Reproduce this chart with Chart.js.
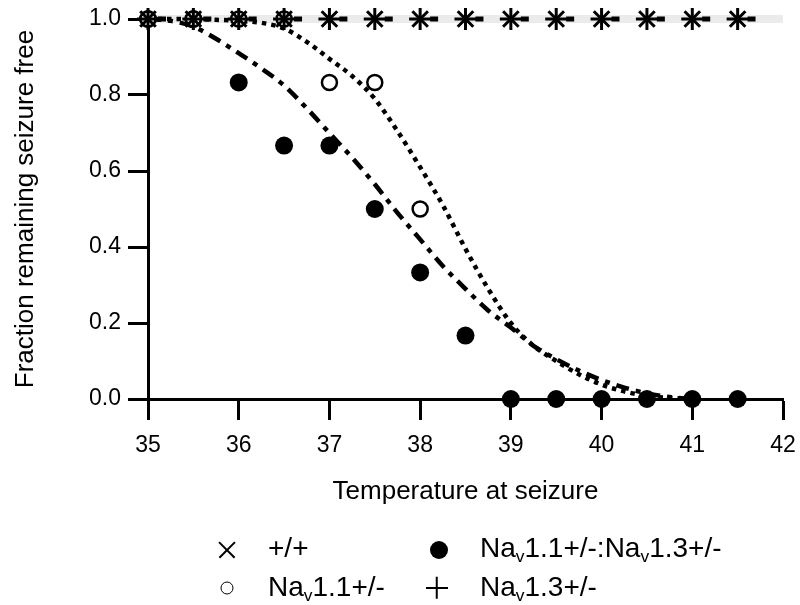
<!DOCTYPE html>
<html>
<head>
<meta charset="utf-8">
<script src="https://cdn.jsdelivr.net/npm/chart.js@4.4.1/dist/chart.umd.min.js"></script>
<style>
    html, body { margin: 0; padding: 0; background: #fff; }
    #wrap { position: relative; width: 800px; height: 605px; }
    #chart { position: absolute; left: 0; top: 0; }
    .lg { position: absolute; font-family: "Liberation Sans", Arial, sans-serif; font-size: 28px; color: #000;
          line-height: 1; white-space: nowrap; transform: translateY(-50%); }
    .lg sub { font-size: 62%; vertical-align: -0.3em; line-height: 0; }
    .mk { position: absolute; transform: translate(-50%, -50%); }
    .dot { width: 18px; height: 18px; border-radius: 50%; background: #000; }
    .ring { width: 11px; height: 11px; border-radius: 50%; border: 1.5px solid #000; }
    .cross, .xmark { width: 22px; height: 22px; }
    .cross::before, .cross::after, .xmark::before, .xmark::after {
        content: ""; position: absolute; left: 0; top: 10.25px; width: 22px; height: 1.5px; background: #000;
    }
    .cross::after { transform: rotate(90deg); }
    .xmark::before { transform: rotate(45deg); }
    .xmark::after { transform: rotate(-45deg); }
</style>
</head>
<body>
<div id="wrap">
    <canvas id="chart" width="800" height="605"></canvas>
    <span class="mk xmark" style="left:227px; top:550px;"></span>
    <span class="lg" style="left:268px; top:548px;">+/+</span>
    <span class="mk dot" style="left:439px; top:550px;"></span>
    <span class="lg" style="left:480px; top:548px;">Na<sub>v</sub>1.1+/-:Na<sub>v</sub>1.3+/-</span>
    <span class="mk ring" style="left:227px; top:588px;"></span>
    <span class="lg" style="left:268px; top:587px;">Na<sub>v</sub>1.1+/-</span>
    <span class="mk cross" style="left:437px; top:588px;"></span>
    <span class="lg" style="left:480px; top:587px;">Na<sub>v</sub>1.3+/-</span>
</div>
<script>
    const FONT = '"Liberation Sans", Arial, sans-serif';

    // observed points
    const temps = [35, 35.5, 36, 36.5, 37, 37.5, 38, 38.5, 39, 39.5, 40, 40.5, 41, 41.5];
    const wildType = [1, 1, 1, 1, 1, 1, 1, 1, 1, 1, 1, 1, 1, 1];
    const nav13Het = [1, 1, 1, 1, 1, 1, 1, 1, 1, 1, 1, 1, 1, 1];
    const nav11Temps = [35, 35.5, 36, 36.5, 37, 37.5, 38];
    const nav11Het = [1, 1, 1, 1, 0.833, 0.833, 0.5];
    const doubleHet = [1, 1, 0.833, 0.667, 0.667, 0.5, 0.333, 0.167, 0, 0, 0, 0, 0, 0];

    // fitted curves
    const fitTemps = [35, 35.25, 35.5, 35.75, 36, 36.25, 36.5, 36.75, 37, 37.25, 37.5, 37.75, 38,
        38.25, 38.5, 38.75, 39, 39.25, 39.5, 39.75, 40, 40.25, 40.5, 40.75, 41];
    const nav11Fit = [1, 1, 1, 0.998, 0.995, 0.99, 0.975, 0.94, 0.895, 0.85, 0.79, 0.705, 0.61,
        0.51, 0.395, 0.29, 0.2, 0.14, 0.1, 0.065, 0.038, 0.02, 0.008, 0.003, 0];
    const doubleFit = [1, 0.995, 0.98, 0.948, 0.91, 0.87, 0.825, 0.765, 0.7, 0.635, 0.565, 0.49, 0.42,
        0.35, 0.29, 0.233, 0.188, 0.14, 0.105, 0.075, 0.05, 0.03, 0.015, 0.005, 0];
    const flatTemps = [35, 42];
    const flatFit = [1, 1];

    const toXY = (xs, ys) => xs.map((x, i) => ({x: x, y: ys[i]}));

    const ctx = document.getElementById('chart').getContext('2d');
    new Chart(ctx, {
        type: 'scatter',
        data: {
            datasets: [
                {
                    label: 'flat band', type: 'line', data: toXY(flatTemps, flatFit),
                    borderColor: '#ebebeb', borderWidth: 8, pointRadius: 0, order: 10, clip: false
                },
                {
                    label: 'flat fit', type: 'line', data: toXY(flatTemps, flatFit),
                    borderColor: '#000', borderWidth: 5, borderDash: [8, 37.35], borderDashOffset: 35.35,
                    pointRadius: 0, order: 9, clip: false
                },
                {
                    label: 'Nav1.1 fit', type: 'line', data: toXY(fitTemps, nav11Fit),
                    borderColor: '#000', borderWidth: 4.5, borderDash: [4.5, 5], borderCapStyle: 'butt',
                    cubicInterpolationMode: 'monotone', pointRadius: 0, order: 8, clip: false
                },
                {
                    label: 'double fit', type: 'line', data: toXY(fitTemps, doubleFit),
                    borderColor: '#000', borderWidth: 4.5, borderDash: [13, 7, 5, 7], borderCapStyle: 'butt',
                    cubicInterpolationMode: 'monotone', pointRadius: 0, order: 7, clip: false
                },
                {
                    label: 'Nav1.1+/-:Nav1.3+/-', data: toXY(temps, doubleHet),
                    pointStyle: 'circle', pointRadius: 9, backgroundColor: '#000', borderColor: '#000',
                    borderWidth: 0, order: 4, clip: false
                },
                {
                    label: 'Nav1.1+/-', data: toXY(nav11Temps, nav11Het),
                    pointStyle: 'circle', pointRadius: 7.5, backgroundColor: '#fff', borderColor: '#000',
                    borderWidth: 2.5, order: 3, clip: false
                },
                {
                    label: '+/+', data: toXY(temps, wildType),
                    pointStyle: 'crossRot', pointRadius: 11, borderColor: '#000', borderWidth: 3,
                    order: 2, clip: false
                },
                {
                    label: 'Nav1.3+/-', data: toXY(temps, nav13Het),
                    pointStyle: 'cross', pointRadius: 11, borderColor: '#000', borderWidth: 3,
                    order: 1, clip: false
                }
            ]
        },
        options: {
            responsive: false,
            animation: false,
            events: [],
            layout: {
                autoPadding: false,
                padding: {left: 10, right: 17, top: 19, bottom: 98}
            },
            plugins: {
                legend: {display: false},
                tooltip: {enabled: false}
            },
            scales: {
                x: {
                    type: 'linear', min: 35, max: 42,
                    ticks: {stepSize: 1, color: '#000', padding: 12, font: {family: FONT, size: 23}},
                    grid: {drawOnChartArea: false, drawTicks: true, tickLength: 21, tickWidth: 3, tickColor: '#000'},
                    border: {display: true, color: '#000', width: 3},
                    title: {display: true, text: 'Temperature at seizure', color: '#000', padding: 0,
                        font: {family: FONT, size: 26}},
                    afterFit: scale => {
                        scale.height = 108;
                        scale.paddingLeft = 0;
                        scale.paddingRight = 0;
                    }
                },
                y: {
                    type: 'linear', min: 0, max: 1,
                    ticks: {stepSize: 0.2, color: '#000', padding: 7, font: {family: FONT, size: 23},
                        callback: v => v.toFixed(1)},
                    grid: {drawOnChartArea: false, drawTicks: true, tickLength: 20, tickWidth: 3, tickColor: '#000'},
                    border: {display: true, color: '#000', width: 3},
                    title: {display: true, text: 'Fraction remaining seizure free', color: '#000', padding: 0,
                        font: {family: FONT, size: 26}},
                    afterFit: scale => {
                        scale.width = 138;
                        scale.paddingTop = 0;
                        scale.paddingBottom = 0;
                    }
                }
            }
        }
    });
</script>
</body>
</html>
